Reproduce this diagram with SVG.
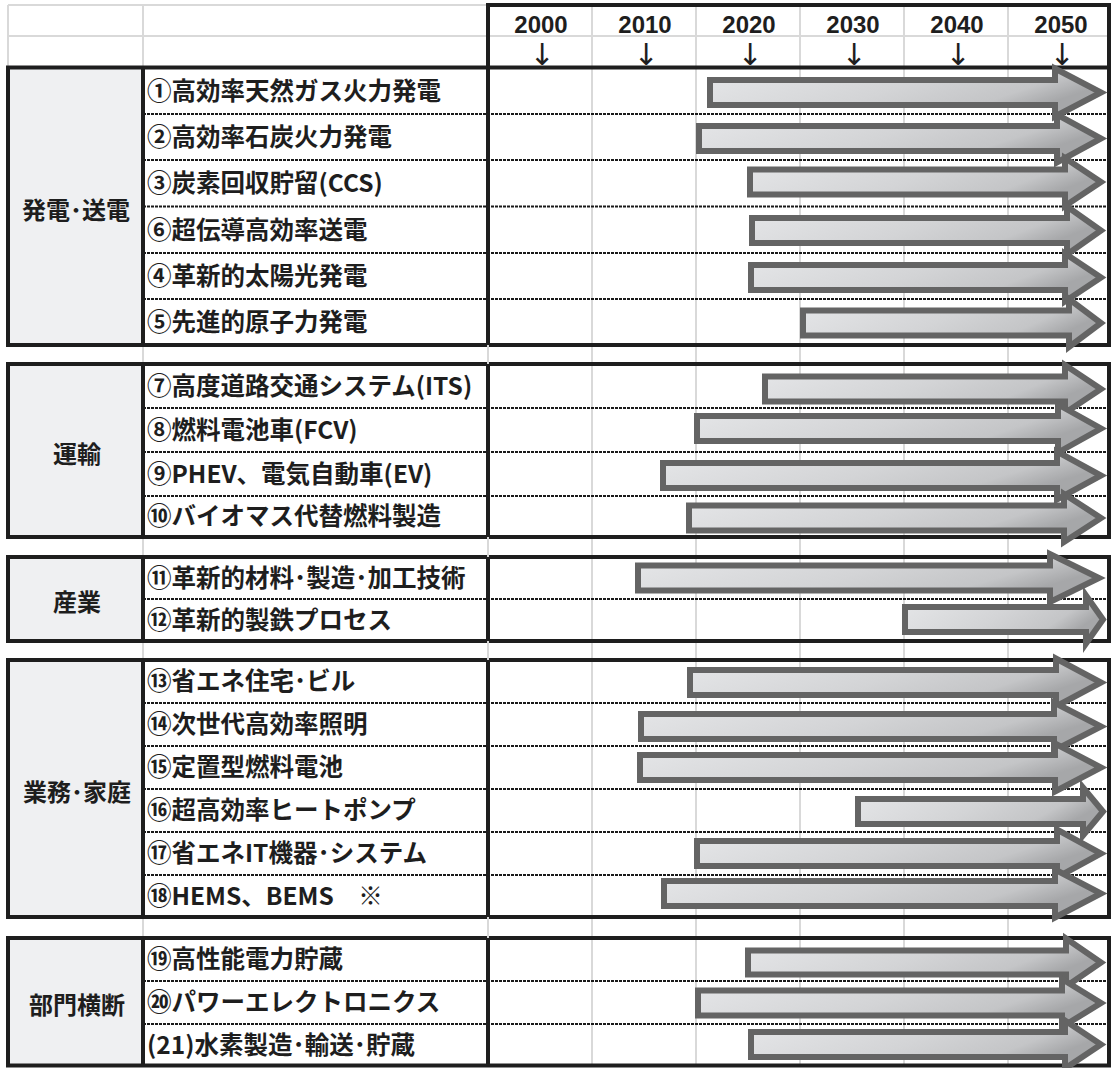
<svg xmlns="http://www.w3.org/2000/svg" width="1111" height="1068" viewBox="0 0 1111 1068">
<style>
.bg{fill:#ffffff}
.grid{stroke:#d9d9d9;stroke-width:2;fill:none}
.bold{stroke:#1e1e1e;stroke-width:4;fill:none}
.cat{fill:#eff0f2;stroke:none}
.dash{stroke:#1a1a1a;stroke-width:2;stroke-dasharray:3 1;fill:none}
.yr{font-family:"Liberation Sans",Arial,sans-serif;font-weight:bold;font-size:24px;fill:#1e1e1e;text-anchor:middle}
.dn{font-family:"DejaVu Sans",sans-serif;font-size:30px;fill:#1e1e1e;text-anchor:middle}
.lbl{font-family:"Noto Sans CJK JP",sans-serif;font-weight:bold;font-size:24.5px;fill:#1e1e1e}
.grp{font-family:"Noto Sans CJK JP",sans-serif;font-weight:bold;font-size:24px;fill:#1e1e1e;text-anchor:middle}
.bar{fill:url(#barFill);stroke:#646464;stroke-width:6;stroke-linejoin:miter;stroke-miterlimit:10}
</style>
<defs>
<linearGradient id="barFill" x1="0" y1="0" x2="1" y2="0.35">
<stop offset="0" stop-color="#e6e7e9"/>
<stop offset="0.55" stop-color="#d3d4d6"/>
<stop offset="0.85" stop-color="#c4c5c7"/>
<stop offset="1" stop-color="#a6a7a9"/>
</linearGradient>
</defs>
<rect class="bg" x="0" y="0" width="1111" height="1068"/>

<g id="grid">
<rect class="cat" x="8" y="67.5" width="135" height="277.5"/>
<rect class="cat" x="8" y="364" width="135" height="173"/>
<rect class="cat" x="8" y="557" width="135" height="84"/>
<rect class="cat" x="8" y="660" width="135" height="257"/>
<rect class="cat" x="8" y="938" width="135" height="127.5"/>
<line class="grid" x1="8" y1="5" x2="488" y2="5"/>
<line class="grid" x1="8" y1="36" x2="1109" y2="36"/>
<line class="grid" x1="8" y1="5" x2="8" y2="67"/>
<line class="grid" x1="143" y1="5" x2="143" y2="1066"/>
<line class="grid" x1="592" y1="5" x2="592" y2="1066"/>
<line class="grid" x1="696" y1="5" x2="696" y2="1066"/>
<line class="grid" x1="800" y1="5" x2="800" y2="1066"/>
<line class="grid" x1="904" y1="5" x2="904" y2="1066"/>
<line class="grid" x1="1008" y1="5" x2="1008" y2="1066"/>
<g id="dashes">
<line class="dash" x1="143" y1="114" x2="1109" y2="114"/>
<line class="dash" x1="143" y1="160" x2="1109" y2="160"/>
<line class="dash" x1="143" y1="206.5" x2="1109" y2="206.5"/>
<line class="dash" x1="143" y1="253" x2="1109" y2="253"/>
<line class="dash" x1="143" y1="299" x2="1109" y2="299"/>
<line class="dash" x1="143" y1="408" x2="1109" y2="408"/>
<line class="dash" x1="143" y1="452" x2="1109" y2="452"/>
<line class="dash" x1="143" y1="496" x2="1109" y2="496"/>
<line class="dash" x1="143" y1="599" x2="1109" y2="599"/>
<line class="dash" x1="143" y1="703" x2="1109" y2="703"/>
<line class="dash" x1="143" y1="746" x2="1109" y2="746"/>
<line class="dash" x1="143" y1="789" x2="1109" y2="789"/>
<line class="dash" x1="143" y1="832" x2="1109" y2="832"/>
<line class="dash" x1="143" y1="875" x2="1109" y2="875"/>
<line class="dash" x1="143" y1="981" x2="1109" y2="981"/>
<line class="dash" x1="143" y1="1024" x2="1109" y2="1024"/>
</g>
<g id="borders">
<path class="bold" d="M488,67.5 V5 H1109 V67.5"/>
<rect class="bold" x="8" y="67.5" width="1101" height="277.5"/>
<rect class="bold" x="8" y="364" width="1101" height="173"/>
<rect class="bold" x="8" y="557" width="1101" height="84"/>
<rect class="bold" x="8" y="660" width="1101" height="257"/>
<rect class="bold" x="8" y="938" width="1101" height="127.5"/>
<line class="bold" x1="143" y1="67.5" x2="143" y2="345"/>
<line class="bold" x1="488" y1="67.5" x2="488" y2="345"/>
<line class="bold" x1="143" y1="364" x2="143" y2="537"/>
<line class="bold" x1="488" y1="364" x2="488" y2="537"/>
<line class="bold" x1="143" y1="557" x2="143" y2="641"/>
<line class="bold" x1="488" y1="557" x2="488" y2="641"/>
<line class="bold" x1="143" y1="660" x2="143" y2="917"/>
<line class="bold" x1="488" y1="660" x2="488" y2="917"/>
<line class="bold" x1="143" y1="938" x2="143" y2="1065.5"/>
<line class="bold" x1="488" y1="938" x2="488" y2="1065.5"/>
<line class="grid" x1="488" y1="345" x2="488" y2="364"/>
<line class="grid" x1="488" y1="537" x2="488" y2="557"/>
<line class="grid" x1="488" y1="641" x2="488" y2="660"/>
<line class="grid" x1="488" y1="917" x2="488" y2="938"/>
</g>
</g>

<g id="header">
<text class="yr" x="541" y="33">2000</text>
<text class="yr" x="645" y="33">2010</text>
<text class="yr" x="749" y="33">2020</text>
<text class="yr" x="853" y="33">2030</text>
<text class="yr" x="957" y="33">2040</text>
<text class="yr" x="1061" y="33">2050</text>
<text class="dn" x="542" y="65">↓</text>
<text class="dn" x="646" y="65">↓</text>
<text class="dn" x="750" y="65">↓</text>
<text class="dn" x="854" y="65">↓</text>
<text class="dn" x="958" y="65">↓</text>
<text class="dn" x="1062" y="65">↓</text>
</g>

<g id="categories">
<text id="cat-power" class="grp" x="76" y="219">発電･送電</text>
<text id="cat-transport" class="grp" x="77" y="463">運輸</text>
<text id="cat-industry" class="grp" x="77" y="611">産業</text>
<text id="cat-home" class="grp" x="77" y="801">業務･家庭</text>
<text id="cat-cross" class="grp" x="77" y="1014">部門横断</text>
</g>

<g id="r1"><text class="lbl" x="147" y="100">①高効率天然ガス火力発電</text><path class="bar" d="M710,80 H1055 V68.5 L1101,92.5 L1055,116.5 V105 H710 Z"/></g>
<g id="r2"><text class="lbl" x="147" y="146">②高効率石炭火力発電</text><path class="bar" d="M699,126 H1057 V114.5 L1101,138.5 L1057,162.5 V151 H699 Z"/></g>
<g id="r3"><text class="lbl" x="147" y="192">③炭素回収貯留(CCS)</text><path class="bar" d="M750,169.5 H1065 V158 L1101,182 L1065,206 V194.5 H750 Z"/></g>
<g id="r6"><text class="lbl" x="147" y="239">⑥超伝導高効率送電</text><path class="bar" d="M752,218 H1067 V206.5 L1101,230.5 L1067,254.5 V243 H752 Z"/></g>
<g id="r4"><text class="lbl" x="147" y="285">④革新的太陽光発電</text><path class="bar" d="M751,265 H1065 V253.5 L1101,277.5 L1065,301.5 V290 H751 Z"/></g>
<g id="r5"><text class="lbl" x="147" y="331">⑤先進的原子力発電</text><path class="bar" d="M803,310.5 H1069 V299 L1101,323 L1069,347 V335.5 H803 Z"/></g>

<g id="r7"><text class="lbl" x="147" y="395">⑦高度道路交通システム(ITS)</text><path class="bar" d="M765,376.5 H1065 V365 L1101,389 L1065,413 V401.5 H765 Z"/></g>
<g id="r8"><text class="lbl" x="147" y="439">⑧燃料電池車(FCV)</text><path class="bar" d="M697,416 H1058 V404.5 L1101,428.5 L1058,452.5 V441 H697 Z"/></g>
<g id="r9"><text class="lbl" x="147" y="483">⑨PHEV、電気自動車(EV)</text><path class="bar" d="M663,463 H1057 V451.5 L1101,475.5 L1057,499.5 V488 H663 Z"/></g>
<g id="r10"><text class="lbl" x="147" y="525">⑩バイオマス代替燃料製造</text><path class="bar" d="M689,505.5 H1064 V494 L1101,518 L1064,542 V530.5 H689 Z"/></g>

<g id="r11"><text class="lbl" x="147" y="587">⑪革新的材料･製造･加工技術</text><path class="bar" d="M638,565.5 H1050 V554 L1099,578 L1050,602 V590.5 H638 Z"/></g>
<g id="r12"><text class="lbl" x="147" y="629">⑫革新的製鉄プロセス</text><path class="bar" d="M905,607 H1086 V595.5 L1103,619.5 L1086,643.5 V632 H905 Z"/></g>

<g id="r13"><text class="lbl" x="147" y="690">⑬省エネ住宅･ビル</text><path class="bar" d="M690,670 H1056 V658.5 L1101,682.5 L1056,706.5 V695 H690 Z"/></g>
<g id="r14"><text class="lbl" x="147" y="733">⑭次世代高効率照明</text><path class="bar" d="M641,714 H1054 V702.5 L1101,726.5 L1054,750.5 V739 H641 Z"/></g>
<g id="r15"><text class="lbl" x="147" y="776">⑮定置型燃料電池</text><path class="bar" d="M640,755 H1055 V743.5 L1101,767.5 L1055,791.5 V780 H640 Z"/></g>
<g id="r16"><text class="lbl" x="147" y="819">⑯超高効率ヒートポンプ</text><path class="bar" d="M858,799 H1083 V787.5 L1103,811.5 L1083,835.5 V824 H858 Z"/></g>
<g id="r17"><text class="lbl" x="147" y="862">⑰省エネIT機器･システム</text><path class="bar" d="M697,841 H1057 V829.5 L1101,853.5 L1057,877.5 V866 H697 Z"/></g>
<g id="r18"><text class="lbl" x="147" y="905">⑱HEMS、BEMS　※</text><path class="bar" d="M664,881 H1055 V869.5 L1101,893.5 L1055,917.5 V906 H664 Z"/></g>

<g id="r19"><text class="lbl" x="147" y="968">⑲高性能電力貯蔵</text><path class="bar" d="M748,950.5 H1066 V938.5 L1101,962.5 L1066,986.5 V974.5 H748 Z"/></g>
<g id="r20"><text class="lbl" x="147" y="1011">⑳パワーエレクトロニクス</text><path class="bar" d="M698,990.5 H1062 V979 L1101,1003 L1062,1027 V1015.5 H698 Z"/></g>
<g id="r21"><text class="lbl" x="147" y="1054">(21)水素製造･輸送･貯蔵</text><path class="bar" d="M751,1032 H1065 V1020.5 L1101,1044.5 L1065,1068.5 V1057 H751 Z"/></g>
</svg>
